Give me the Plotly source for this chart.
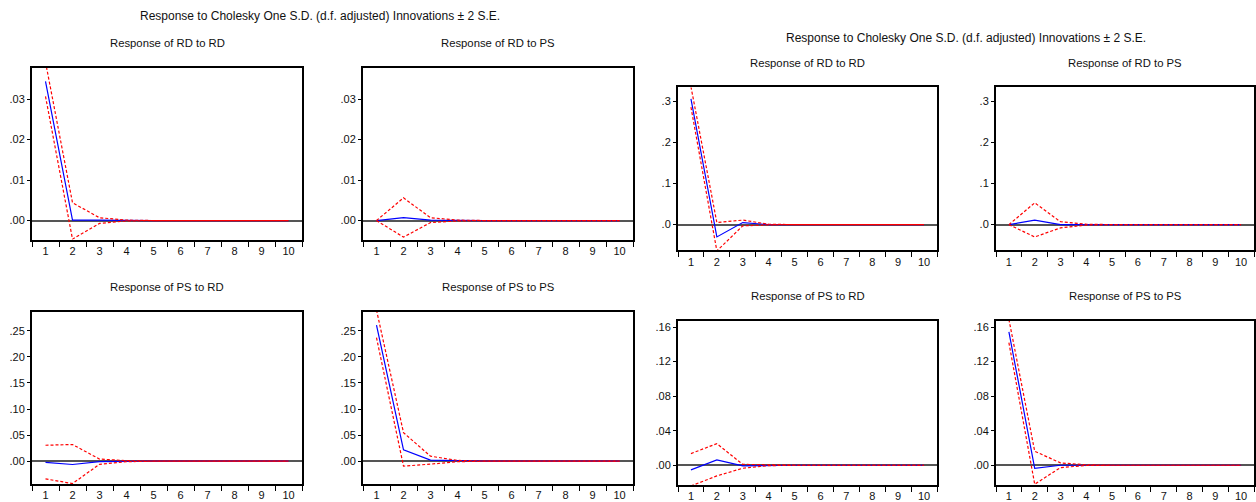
import plotly.graph_objects as go

W, H = 1256, 502

periods = [1, 2, 3, 4, 5, 6, 7, 8, 9, 10]

# ---- Left block: impulse responses (scale ~0.01) ----
l_rd_rd = [0.0344, 0.0001, 0.0001, 0.0, 0.0, 0.0, 0.0, 0.0, 0.0, 0.0]
l_rd_rd_hi = [0.0392, 0.0044, 0.0007, 0.0001, 0.0, 0.0, 0.0, 0.0, 0.0, 0.0]
l_rd_rd_lo = [0.0307, -0.0046, -0.0007, -0.0001, 0.0, 0.0, 0.0, 0.0, 0.0, 0.0]

l_rd_ps = [0.0, 0.0007, 0.0001, 0.0, 0.0, 0.0, 0.0, 0.0, 0.0, 0.0]
l_rd_ps_hi = [0.0, 0.0056, 0.0007, 0.0001, 0.0, 0.0, 0.0, 0.0, 0.0, 0.0]
l_rd_ps_lo = [0.0, -0.0041, -0.0005, -0.0001, 0.0, 0.0, 0.0, 0.0, 0.0, 0.0]

l_ps_rd = [-0.0025, -0.0064, -0.001, 0.0, 0.0, 0.0, 0.0, 0.0, 0.0, 0.0]
l_ps_rd_hi = [0.0305, 0.032, 0.004, 0.001, 0.0, 0.0, 0.0, 0.0, 0.0, 0.0]
l_ps_rd_lo = [-0.034, -0.043, -0.006, -0.001, 0.0, 0.0, 0.0, 0.0, 0.0, 0.0]

l_ps_ps = [0.261, 0.0216, 0.002, 0.0003, 0.0, 0.0, 0.0, 0.0, 0.0, 0.0]
l_ps_ps_hi = [0.29, 0.0547, 0.0095, 0.0015, 0.0, 0.0, 0.0, 0.0, 0.0, 0.0]
l_ps_ps_lo = [0.237, -0.0095, -0.0057, -0.001, 0.0, 0.0, 0.0, 0.0, 0.0, 0.0]

# ---- Right block ----
r_rd_rd = [0.306, -0.030, 0.005, 0.0, 0.0, 0.0, 0.0, 0.0, 0.0, 0.0]
r_rd_rd_hi = [0.336, 0.005, 0.011, 0.001, 0.0, 0.0, 0.0, 0.0, 0.0, 0.0]
r_rd_rd_lo = [0.286, -0.064, -0.003, -0.0005, 0.0, 0.0, 0.0, 0.0, 0.0, 0.0]

r_rd_ps = [0.0, 0.011, 0.0, 0.0, 0.0, 0.0, 0.0, 0.0, 0.0, 0.0]
r_rd_ps_hi = [0.0, 0.053, 0.007, 0.001, 0.0, 0.0, 0.0, 0.0, 0.0, 0.0]
r_rd_ps_lo = [0.0, -0.030, -0.008, -0.001, 0.0, 0.0, 0.0, 0.0, 0.0, 0.0]

r_ps_rd = [-0.0054, 0.0062, -0.0008, 0.0, 0.0, 0.0, 0.0, 0.0, 0.0, 0.0]
r_ps_rd_hi = [0.0135, 0.025, 0.001, 0.0003, 0.0, 0.0, 0.0, 0.0, 0.0, 0.0]
r_ps_rd_lo = [-0.024, -0.0124, -0.0035, -0.0005, 0.0, 0.0, 0.0, 0.0, 0.0, 0.0]

r_ps_ps = [0.1546, -0.0035, 0.0, 0.0, 0.0, 0.0, 0.0, 0.0, 0.0, 0.0]
r_ps_ps_hi = [0.169, 0.0162, 0.0027, 0.0005, 0.0, 0.0, 0.0, 0.0, 0.0, 0.0]
r_ps_ps_lo = [0.142, -0.022, -0.0027, -0.0003, 0.0, 0.0, 0.0, 0.0, 0.0, 0.0]

main_title = "Response to Cholesky One S.D. (d.f. adjusted) Innovations \u00b1 2 S.E."

left_ticks_small = [0.0, 0.01, 0.02, 0.03]
left_labels_small = [".00", ".01", ".02", ".03"]
left_ticks_big = [0.0, 0.05, 0.10, 0.15, 0.20, 0.25]
left_labels_big = [".00", ".05", ".10", ".15", ".20", ".25"]
right_ticks_top = [0.0, 0.1, 0.2, 0.3]
right_labels_top = [".0", ".1", ".2", ".3"]
right_ticks_bot = [0.0, 0.04, 0.08, 0.12, 0.16]
right_labels_bot = [".00", ".04", ".08", ".12", ".16"]

# panel boxes in pixels: (left, top, right, bottom), plus title centre row
panels = [
    ("Response of RD to RD", l_rd_rd, l_rd_rd_hi, l_rd_rd_lo, (32, 68, 302, 241), 43,
     [-0.0047, 0.0378], left_ticks_small, left_labels_small),
    ("Response of RD to PS", l_rd_ps, l_rd_ps_hi, l_rd_ps_lo, (363, 68, 633, 241), 43,
     [-0.0047, 0.0378], left_ticks_small, left_labels_small),
    ("Response of PS to RD", l_ps_rd, l_ps_rd_hi, l_ps_rd_lo, (32, 314, 302, 487), 289,
     [-0.044, 0.286], left_ticks_big, left_labels_big),
    ("Response of PS to PS", l_ps_ps, l_ps_ps_hi, l_ps_ps_lo, (363, 314, 633, 487), 289,
     [-0.044, 0.286], left_ticks_big, left_labels_big),
    ("Response of RD to RD", r_rd_rd, r_rd_rd_hi, r_rd_rd_lo, (678, 88, 937, 252), 63,
     [-0.063, 0.334], right_ticks_top, right_labels_top),
    ("Response of RD to PS", r_rd_ps, r_rd_ps_hi, r_rd_ps_lo, (996, 88, 1254, 252), 63,
     [-0.063, 0.334], right_ticks_top, right_labels_top),
    ("Response of PS to RD", r_ps_rd, r_ps_rd_hi, r_ps_rd_lo, (678, 323, 937, 488), 298,
     [-0.023, 0.167], right_ticks_bot, right_labels_bot),
    ("Response of PS to PS", r_ps_ps, r_ps_ps_hi, r_ps_ps_lo, (996, 323, 1254, 488), 298,
     [-0.023, 0.167], right_ticks_bot, right_labels_bot),
]

FONT = "Liberation Sans, Arial, sans-serif"
fig = go.Figure()
annotations = []

for i, (title, resp, hi, lo, box, ty, yr, tv, tt) in enumerate(panels):
    n = "" if i == 0 else str(i + 1)
    xa, ya = "x" + n, "y" + n
    L, T, R, B = box
    # response first, then the dashed +/- 2 S.E. bands on top of it
    for series, color, dash in ((resp, "#0000ff", "solid"),
                                (hi, "#ff0000", "3px,2px"),
                                (lo, "#ff0000", "3px,2px")):
        fig.add_trace(go.Scatter(
            x=periods, y=series, mode="lines", xaxis=xa, yaxis=ya,
            line=dict(color=color, width=1.2, dash=dash), showlegend=False,
            hoverinfo="skip"))
    fig.layout["xaxis" + n] = dict(
        domain=[L / W, R / W], anchor=ya, range=[0.5, 10.5],
        tickvals=periods, ticktext=[str(p) for p in periods], ticks="",
        minor=dict(ticks="outside", tick0=0.5, dtick=1, ticklen=5,
                   tickcolor="#000", tickwidth=1),
        showline=True, mirror=True, linecolor="#000", linewidth=2,
        showgrid=False, zeroline=False, fixedrange=True,
        tickfont=dict(family=FONT, size=11, color="#111"))
    fig.layout["yaxis" + n] = dict(
        domain=[1 - B / H, 1 - T / H], anchor=xa, range=yr,
        tickvals=tv, ticktext=tt, ticks="outside", ticklen=3,
        tickcolor="#000", tickwidth=1,
        showline=True, mirror=True, linecolor="#000", linewidth=2,
        showgrid=False, zeroline=True, zerolinecolor="#555",
        zerolinewidth=1.5, fixedrange=True,
        tickfont=dict(family=FONT, size=11, color="#111"))
    annotations.append(dict(
        text=title, x=(L + R) / 2 / W, y=1 - ty / H, xref="paper", yref="paper",
        xanchor="center", yanchor="middle", showarrow=False,
        font=dict(family=FONT, size=11.3, color="#111")))

annotations.append(dict(text=main_title, x=320 / W, y=1 - 16 / H, xref="paper",
                        yref="paper", xanchor="center", yanchor="middle",
                        showarrow=False, font=dict(family=FONT, size=12, color="#111")))
annotations.append(dict(text=main_title, x=966 / W, y=1 - 38 / H, xref="paper",
                        yref="paper", xanchor="center", yanchor="middle",
                        showarrow=False, font=dict(family=FONT, size=12, color="#111")))

fig.update_layout(width=W, height=H, margin=dict(l=0, r=0, t=0, b=0),
                  paper_bgcolor="white", plot_bgcolor="white",
                  annotations=annotations, showlegend=False)

fig.write_html("out.html", config={"displayModeBar": False})
